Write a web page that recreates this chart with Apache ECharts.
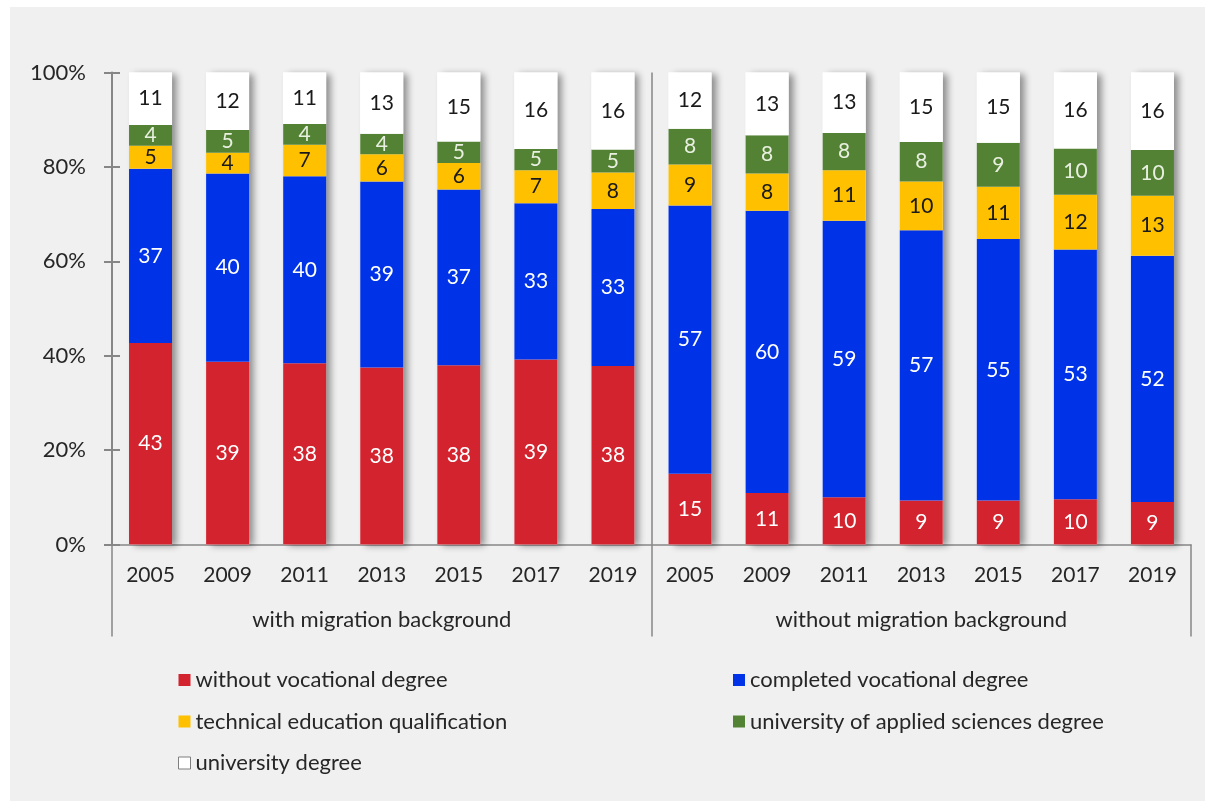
<!DOCTYPE html>
<html>
<head>
<meta charset="utf-8">
<script src="https://cdn.jsdelivr.net/npm/echarts@6/dist/echarts.min.js"></script>
<style>
html,body{margin:0;padding:0;background:#fff;}
#chart{width:1215px;height:809px;}
</style>
</head>
<body>
<div id="chart"></div>
<script>
// ---- data ----
const years = ['2005','2009','2011','2013','2015','2017','2019'];
const groups = ['with migration background','without migration background'];
const categories = years.concat(years);
const seriesNames = ['without vocational degree','completed vocational degree','technical education qualification','university of applied sciences degree','university degree'];
// values in %: first 7 = with migration background, last 7 = without
const withoutVocational = [42.7,38.7,38.4,37.5,38.0,39.2,37.8, 15.0,10.9,10.0,9.3,9.3,9.6,9.0];
const completedVocational = [36.9,39.9,39.6,39.4,37.2,33.1,33.3, 56.8,59.8,58.6,57.3,55.4,52.9,52.2];
const technicalEducation = [4.9,4.4,6.7,5.8,5.6,7.0,7.7, 8.7,7.9,10.7,10.3,11.1,11.6,12.7];
const appliedSciences = [4.4,4.8,4.4,4.3,4.6,4.5,4.9, 7.6,8.1,7.9,8.4,9.3,9.8,9.7];
const universityDegree = [11.1,12.2,10.9,13.0,14.6,16.2,16.3, 11.9,13.3,12.8,14.7,14.9,16.1,16.4];
const yTicks = [0,20,40,60,80,100];

const colors = ['#d2232e','#0033e8','#ffc000','#548235','#ffffff'];
const labelColors = ['#ffffff','#ffffff','#1a1a1a','#e8f0e0','#1a1a1a'];
const valueArrays = [withoutVocational, completedVocational, technicalEducation, appliedSciences, universityDegree];
const totals = categories.map((c,i)=>valueArrays.reduce((s,a)=>s+a[i],0));

const FONT = 'Lato, "Open Sans", sans-serif';
const AXIS = '#868686';
const TXT = '#262626';

const chart = echarts.init(document.getElementById('chart'), null, {renderer:'canvas'});

const series = [{
  name: '_shadow',
  type: 'bar',
  data: totals,
  barWidth: 43,
  barGap: '-100%',
  silent: true,
  itemStyle: {color:'#ffffff', shadowColor:'rgba(0,0,0,0.42)', shadowBlur:7, shadowOffsetX:5, shadowOffsetY:1},
  label: {show:false},
  z: 1
}];
seriesNames.forEach((n,k)=>{
  series.push({
    name: n,
    type: 'bar',
    stack: 'total',
    barWidth: 43,
    barGap: '-100%',
    data: valueArrays[k],
    itemStyle: {color: colors[k]},
    label: {
      show: true,
      position: 'inside',
      formatter: p => Math.round(p.value),
      color: labelColors[k],
      fontSize: 21,
      fontFamily: FONT
    },
    z: 2
  });
});

const option = {
  backgroundColor: '#ffffff',
  animation: false,
  graphic: [{type:'rect', left:10, top:7, shape:{width:1195, height:794}, style:{fill:'#f0f0f0'}, z:-10, silent:true}],
  grid: {left:112, right:24, top:72.5, bottom:264.5, containLabel:false},
  legend: [{
    left: 173, top: 664, orient: 'vertical', itemWidth: 12, itemHeight: 12, itemGap: 19.5,
    icon: 'rect',
    textStyle: {fontSize:22, lineHeight:22, color:TXT, fontFamily:FONT},
    data: [
      {name: seriesNames[0]},
      {name: seriesNames[2]},
      {name: seriesNames[4], itemStyle:{color:'#ffffff', borderColor:'#7f7f7f', borderWidth:1}}
    ]
  },{
    left: 728, top: 664, orient: 'vertical', itemWidth: 12, itemHeight: 12, itemGap: 19.5,
    icon: 'rect',
    textStyle: {fontSize:22, lineHeight:22, color:TXT, fontFamily:FONT},
    data: [{name: seriesNames[1]},{name: seriesNames[3]}]
  }],
  xAxis: [{
    type: 'category',
    data: categories,
    position: 'bottom',
    axisLine: {show:true, lineStyle:{color:AXIS, width:1.5}},
    axisTick: {show:false},
    axisLabel: {margin:20, fontSize:21, color:TXT, fontFamily:FONT, interval:0},
    splitLine: {show:false}
  },{
    type: 'category',
    data: groups,
    position: 'bottom',
    offset: 0,
    axisLine: {show:false},
    axisTick: {show:true, length:92, lineStyle:{color:AXIS, width:1.5}},
    axisLabel: {margin:64, fontSize:22, color:TXT, fontFamily:FONT, interval:0},
    splitLine: {show:true, lineStyle:{color:['rgba(0,0,0,0)', AXIS, 'rgba(0,0,0,0)'], width:1.5}}
  }],
  yAxis: [{
    type: 'value',
    min: yTicks[0], max: yTicks[yTicks.length-1], interval: 20,
    position: 'left',
    axisLine: {show:true, lineStyle:{color:AXIS, width:2}},
    axisTick: {show:true, length:8, lineStyle:{color:AXIS, width:2}},
    axisLabel: {formatter:'{value}%', margin:26, fontSize:22, color:TXT, fontFamily:FONT},
    splitLine: {show:false}
  },{
    type: 'value',
    min: yTicks[0], max: yTicks[yTicks.length-1], interval: 20,
    position: 'left',
    offset: 0,
    axisLine: {show:false},
    axisTick: {show:true, inside:true, length:8, lineStyle:{color:AXIS, width:2}},
    axisLabel: {show:false},
    splitLine: {show:false}
  }],
  series: series
};
chart.setOption(option);
</script>
</body>
</html>
